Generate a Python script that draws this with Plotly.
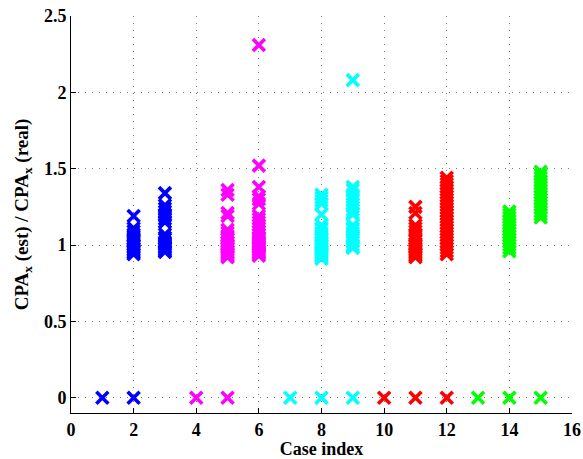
import plotly.graph_objects as go

# Ratio CPA_x(est) / CPA_x(real) for each test case
case_01 = [0.0]
case_02 = [0.0, 1.19, 1.11, 1.09, 1.07, 1.06, 1.04, 1.03, 1.02, 1.00, 0.99, 0.98, 0.97, 0.96, 0.95, 0.94]
case_03 = [1.34, 1.26, 1.24, 1.22, 1.20, 1.19, 1.17, 1.15, 1.07, 1.05, 1.04, 1.02, 1.01, 1.00, 0.99,
           0.98, 0.97, 0.96, 0.955]
case_04 = [0.0]
case_05 = [0.0, 1.36, 1.33, 1.21, 1.19, 1.10, 1.08, 1.06, 1.05, 1.04, 1.02, 1.01, 1.00, 0.99, 0.98,
           0.97, 0.96, 0.95, 0.94, 0.93, 0.92]
case_06 = [2.31, 1.52, 1.38, 1.32, 1.30, 1.27, 1.19, 1.17, 1.15, 1.13, 1.11, 1.09, 1.07, 1.05, 1.04,
           1.02, 1.01, 1.00, 0.99, 0.98, 0.97, 0.96, 0.95, 0.94, 0.93]
case_07 = [0.0]
case_08 = [0.0, 1.33, 1.31, 1.29, 1.27, 1.20, 1.13, 1.11, 1.10, 1.08, 1.06, 1.04, 1.02, 1.01, 1.00,
           0.99, 0.97, 0.96, 0.95, 0.94, 0.93, 0.92, 0.91]
case_09 = [0.0, 2.08, 1.38, 1.36, 1.33, 1.31, 1.29, 1.27, 1.25, 1.23, 1.21, 1.20, 1.13, 1.11, 1.10,
           1.08, 1.06, 1.05, 1.03, 1.02, 1.00, 0.99, 0.98]
case_10 = [0.0]
case_11 = [0.0, 1.25, 1.21, 1.13, 1.11, 1.09, 1.07, 1.06, 1.04, 1.03, 1.01, 1.00, 0.99, 0.98, 0.97,
           0.96, 0.95, 0.94, 0.93, 0.92]
case_12 = [0.0, 1.44, 1.42, 1.40, 1.38, 1.36, 1.34, 1.32, 1.30, 1.28, 1.26, 1.24, 1.22, 1.20, 1.18,
           1.16, 1.14, 1.12, 1.10, 1.08, 1.06, 1.04, 1.02, 1.00, 0.98, 0.96, 0.94]
case_13 = [0.0]
case_14 = [0.0, 1.22, 1.20, 1.18, 1.16, 1.14, 1.12, 1.10, 1.08, 1.06, 1.04, 1.02, 1.00, 0.98, 0.96]
case_15 = [0.0, 1.48, 1.46, 1.44, 1.42, 1.40, 1.38, 1.36, 1.34, 1.32, 1.30, 1.28, 1.26, 1.24, 1.22,
           1.20, 1.18]

cases = [case_01, case_02, case_03, case_04, case_05, case_06, case_07, case_08,
         case_09, case_10, case_11, case_12, case_13, case_14, case_15]
case_colors = ["#0000FF"] * 3 + ["#FF00FF"] * 3 + ["#00FFFF"] * 3 + ["#FF0000"] * 3 + ["#00FF00"] * 3

x_ticks = [0, 2, 4, 6, 8, 10, 12, 14, 16]
y_ticks = [0, 0.5, 1, 1.5, 2, 2.5]
y_tick_text = ["0", "0.5", "1", "1.5", "2", "2.5"]

fig = go.Figure()
for idx, (vals, col) in enumerate(zip(cases, case_colors), start=1):
    fig.add_trace(go.Scatter(
        x=[idx] * len(vals), y=vals, mode="markers",
        marker=dict(symbol="x-thin", size=12, color=col, line=dict(color=col, width=3.6)),
        showlegend=False, hoverinfo="x+y", cliponaxis=False,
    ))

font_family = "Liberation Serif, Times New Roman, serif"
axis_common = dict(
    showgrid=True, gridcolor="#7a7a7a", griddash="1px,6px", gridwidth=1,
    zeroline=False, showline=True, linecolor="black", linewidth=1,
    ticks="inside", ticklen=5, tickcolor="black", mirror=False, automargin=False,
    tickfont=dict(family=font_family, size=18, color="black", weight="bold"),
)

fig.update_layout(
    width=583, height=459,
    margin=dict(l=71, r=11, t=16, b=46),
    paper_bgcolor="white", plot_bgcolor="white",
    font=dict(family=font_family, color="black"),
    xaxis=dict(range=[0, 16], tickvals=x_ticks, **axis_common,
               title=dict(text="<b>Case index</b>", standoff=0,
                          font=dict(family=font_family, size=18, color="black"))),
    yaxis=dict(range=[-0.1, 2.5], tickvals=y_ticks, ticktext=y_tick_text, **axis_common,
               title=dict(text="<b>CPA<sub>x</sub> (est) / CPA<sub>x</sub> (real)</b>", standoff=10,
                          font=dict(family=font_family, size=19, color="black"))),
)

fig.write_html("out.html")
